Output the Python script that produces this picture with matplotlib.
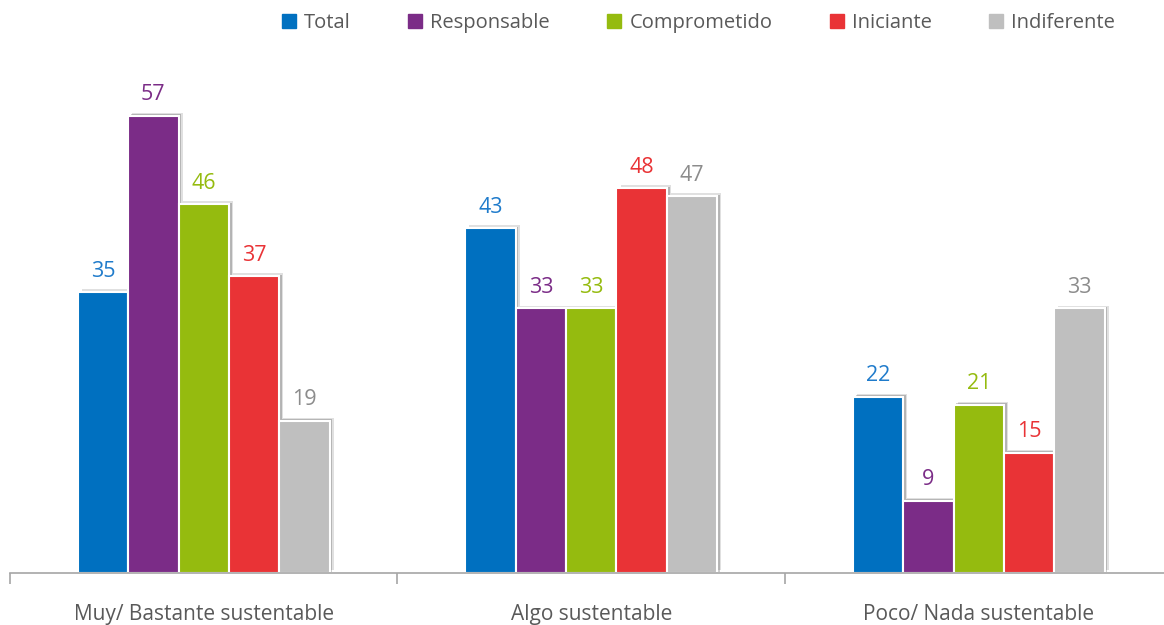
import numpy as np
import matplotlib.pyplot as plt
import matplotlib.patches as mpatches
import matplotlib.patheffects as pe

plt.rcParams['font.family'] = ['Open Sans', 'DejaVu Sans']

categories = ['Muy/ Bastante sustentable', 'Algo sustentable', 'Poco/ Nada sustentable']
series = ['Total', 'Responsable', 'Comprometido', 'Iniciante', 'Indiferente']
values = {
    'Total':        [35, 43, 22],
    'Responsable':  [57, 33, 9],
    'Comprometido': [46, 33, 21],
    'Iniciante':    [37, 48, 15],
    'Indiferente':  [19, 47, 33],
}
colors = ['#0070C0', '#7B2C87', '#95BB0F', '#E93336', '#BFBFBF']
label_colors = ['#1F7BCB', '#7B2C87', '#95BB0F', '#E93336', '#8C8C8C']

fig = plt.figure(figsize=(11.64, 6.25), dpi=100)
ax = fig.add_axes([0.0086, 0.0832, 0.992, 0.77])

x = np.arange(len(categories))
w = 0.13
# soft shadow up/right, like the office chart style
shadow = [
    pe.SimplePatchShadow(offset=(3, 2), shadow_rgbFace='#000000', alpha=0.12),
    pe.SimplePatchShadow(offset=(2, 1), shadow_rgbFace='#000000', alpha=0.2),
    pe.Normal(),
]
for i, (s, c, lc) in enumerate(zip(series, colors, label_colors)):
    pos = x + (i - 2) * w
    bars = ax.bar(pos, values[s], w, color=c, edgecolor='white', linewidth=1.5, zorder=2)
    for b in bars:
        b.set_path_effects(shadow)
    for p, v in zip(pos, values[s]):
        ax.text(p, v + 1.3, str(v), ha='center', va='bottom', color=lc, fontsize=15.5)

ax.set_xlim(-0.5, 2.48)
ax.set_ylim(0, 60)
ax.set_yticks([])
for sp in ['top', 'right', 'left']:
    ax.spines[sp].set_visible(False)
ax.spines['bottom'].set_color('#A6A6A6')
ax.spines['bottom'].set_linewidth(1.2)
ax.spines['bottom'].set_zorder(3)
ax.set_xticks(x)
ax.set_xticklabels(categories, fontsize=15, color='#595959')
ax.tick_params(axis='x', length=0, pad=22)
ax.set_xticks([-0.5, 0.5, 1.5], minor=True)
ax.tick_params(axis='x', which='minor', length=8, color='#A6A6A6', width=1.2)

handles = [mpatches.Patch(color=c, label=s) for s, c in zip(series, colors)]
fig.legend(handles=handles, loc='upper center', bbox_to_anchor=(0.6, 1.008), ncol=5, frameon=False,
           fontsize=14.5, handlelength=0.7, handleheight=0.7, handletextpad=0.4,
           columnspacing=2.85, labelcolor='#595959')

fig.savefig('out.png', dpi=100)
